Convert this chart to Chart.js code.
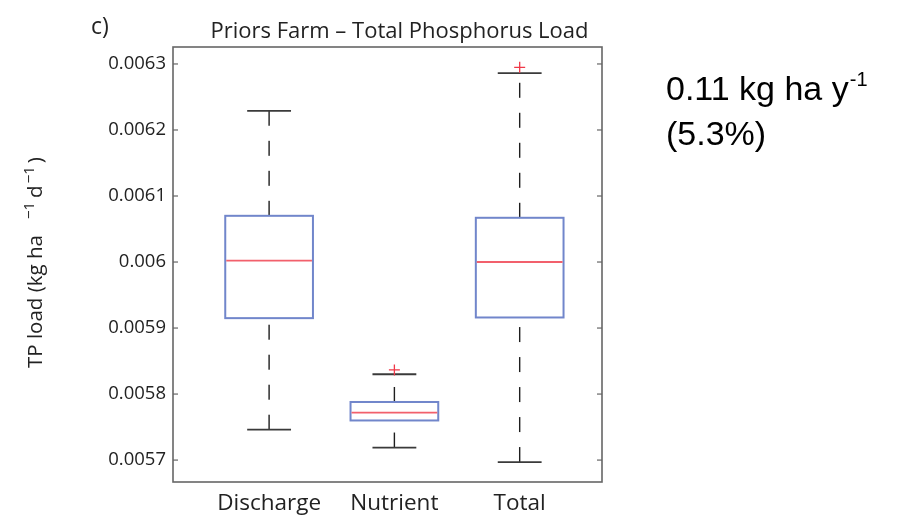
<!DOCTYPE html>
<html>
<head>
<meta charset="utf-8">
<script src="https://cdn.jsdelivr.net/npm/chart.js@4.4.1/dist/chart.umd.min.js"></script>
<style>
  html, body { margin: 0; padding: 0; background: #ffffff; }
  #wrap { width: 903px; height: 520px; position: relative; }
  canvas { display: block; }
</style>
</head>
<body>
<div id="wrap"><canvas id="c" width="903" height="520"></canvas></div>
<script>
// ---- data ----
const categories   = ['Discharge', 'Nutrient', 'Total'];
const whiskerLow   = [0.005746, 0.005719, 0.005697];
const quartile1    = [0.005915, 0.005760, 0.005916];
const medians      = [0.006002, 0.005772, 0.006000];
const quartile3    = [0.006070, 0.005788, 0.006067];
const whiskerHigh  = [0.006229, 0.005830, 0.006286];
const outlierCategory = ['Nutrient', 'Total'];
const outlierValues   = [0.0058365, 0.0062949];
const yTickValues = [0.0057, 0.0058, 0.0059, 0.0060, 0.0061, 0.0062, 0.0063];
const yTickLabels = ['0.0057', '0.0058', '0.0059', '0.006', '0.0061', '0.0062', '0.0063'];
const titleText  = 'Priors Farm \u2013 Total Phosphorus Load';
const panelLabel = 'c)';
const yLabelMain = 'TP load (kg ha';
const yLabelSup  = '\u22121';
const yLabelUnit = 'd';
const noteLine1  = '0.11 kg ha y';
const noteSup    = '-1';
const noteLine2  = '(5.3%)';

// ---- axis ranges / styling ----
const Y_MIN = 0.0056668, Y_MAX = 0.0063257;
const X_MIN = 0.233, X_MAX = 3.657;
const BOX_W = 0.70, CAP_W = 0.35;
const MYRIAD = '"Open Sans", "Noto Sans", sans-serif';
const TEXT = '#222';

const boxPlugin = {
  id: 'boxes',
  beforeDatasetsDraw(chart) {
    const { ctx, scales: { x, y } } = chart;
    ctx.save();
    categories.forEach((c, i) => {
      const pos = i + 1;
      const cx = x.getPixelForValue(pos);
      const bl = x.getPixelForValue(pos - BOX_W / 2), br = x.getPixelForValue(pos + BOX_W / 2);
      const kl = x.getPixelForValue(pos - CAP_W / 2), kr = x.getPixelForValue(pos + CAP_W / 2);
      const yq1 = y.getPixelForValue(quartile1[i]);
      const yq3 = y.getPixelForValue(quartile3[i]);
      const ymed = y.getPixelForValue(medians[i]);
      const ylo = y.getPixelForValue(whiskerLow[i]);
      const yhi = y.getPixelForValue(whiskerHigh[i]);
      // whiskers (dashed, drawn bottom -> top)
      ctx.strokeStyle = '#1e1e1e';
      ctx.lineWidth = 1.4;
      ctx.setLineDash([15, 15]);
      ctx.beginPath(); ctx.moveTo(cx, ylo); ctx.lineTo(cx, yq1); ctx.stroke();
      ctx.beginPath(); ctx.moveTo(cx, yq3); ctx.lineTo(cx, yhi); ctx.stroke();
      ctx.setLineDash([]);
      // caps
      ctx.strokeStyle = '#3a3a3a';
      ctx.lineWidth = 1.8;
      ctx.beginPath(); ctx.moveTo(kl, ylo); ctx.lineTo(kr, ylo); ctx.stroke();
      ctx.beginPath(); ctx.moveTo(kl, yhi); ctx.lineTo(kr, yhi); ctx.stroke();
      // box
      ctx.strokeStyle = '#7186cb';
      ctx.lineWidth = 2;
      ctx.strokeRect(bl, yq3, br - bl, yq1 - yq3);
      // median
      ctx.strokeStyle = '#f2606c';
      ctx.lineWidth = 1.8;
      ctx.beginPath(); ctx.moveTo(bl + 1, ymed); ctx.lineTo(br - 1, ymed); ctx.stroke();
    });
    ctx.restore();
  }
};

const framePlugin = {
  id: 'frame',
  afterDraw(chart) {
    const { ctx, chartArea: a, scales: { y } } = chart;
    ctx.save();
    ctx.strokeStyle = '#666';
    ctx.lineWidth = 1.6;
    ctx.strokeRect(a.left, a.top, a.right - a.left, a.bottom - a.top);
    ctx.lineWidth = 1.2;
    yTickValues.forEach(v => {
      const py = y.getPixelForValue(v);
      ctx.beginPath(); ctx.moveTo(a.left, py); ctx.lineTo(a.left + 5, py); ctx.stroke();
      ctx.beginPath(); ctx.moveTo(a.right, py); ctx.lineTo(a.right - 5, py); ctx.stroke();
    });
    // title
    ctx.fillStyle = TEXT;
    ctx.font = '22px ' + MYRIAD;
    ctx.textAlign = 'center';
    ctx.textBaseline = 'alphabetic';
    ctx.fillText(titleText, (a.left + a.right) / 2 + 12, 38);
    // panel label
    ctx.textAlign = 'left';
    ctx.font = '23px ' + MYRIAD;
    ctx.fillText(panelLabel, 91, 34);
    // y axis label (rotated, with superscripts)
    ctx.save();
    ctx.translate(42, 368);
    ctx.rotate(-Math.PI / 2);
    ctx.font = '20.5px ' + MYRIAD;
    const wMain = ctx.measureText(yLabelMain).width;
    ctx.fillText(yLabelMain, 0, 0);
    ctx.font = '15px ' + MYRIAD;
    const wSup = ctx.measureText(yLabelSup).width;
    let px = wMain + 16;
    ctx.fillText(yLabelSup, px, -8);
    px += wSup + 4;
    ctx.font = '20.5px ' + MYRIAD;
    ctx.fillText(yLabelUnit, px, 0);
    px += ctx.measureText(yLabelUnit).width + 2;
    ctx.font = '15px ' + MYRIAD;
    ctx.fillText(yLabelSup, px, -8);
    px += wSup + 3;
    ctx.font = '20.5px ' + MYRIAD;
    ctx.fillText(')', px, 0);
    ctx.restore();
    // annotation
    ctx.fillStyle = '#000';
    ctx.font = '34px "Liberation Sans", Arial, sans-serif';
    ctx.fillText(noteLine1, 666, 100);
    const w1 = ctx.measureText(noteLine1).width;
    ctx.font = '20px "Liberation Sans", Arial, sans-serif';
    ctx.fillText(noteSup, 666 + w1 + 1, 86);
    ctx.font = '34px "Liberation Sans", Arial, sans-serif';
    ctx.fillText(noteLine2, 666, 145);
    ctx.restore();
  }
};

new Chart(document.getElementById('c'), {
  type: 'scatter',
  data: {
    datasets: [{
      label: 'Outliers',
      data: outlierCategory.map((c, i) => ({ x: categories.indexOf(c) + 1, y: outlierValues[i] })),
      pointStyle: 'cross',
      radius: 5.5,
      borderColor: '#f03848',
      backgroundColor: '#f03848',
      borderWidth: 1.3
    }]
  },
  options: {
    responsive: false,
    devicePixelRatio: 1,
    animation: false,
    layout: { padding: { left: 0, top: 47, right: 301, bottom: 0 } },
    plugins: { legend: { display: false }, tooltip: { enabled: false }, title: { display: false } },
    scales: {
      x: {
        type: 'linear',
        min: X_MIN, max: X_MAX,
        grid: { display: false, drawTicks: false },
        border: { display: false },
        afterBuildTicks: s => { s.ticks = categories.map((c, i) => ({ value: i + 1 })); },
        afterFit: s => { s.height = 38; },
        ticks: {
          autoSkip: false, maxRotation: 0,
          padding: 8,
          color: TEXT,
          font: { family: MYRIAD, size: 22.5 },
          callback: v => categories[v - 1]
        }
      },
      y: {
        type: 'linear',
        min: Y_MIN, max: Y_MAX,
        grid: { display: false, drawTicks: false },
        border: { display: false },
        afterBuildTicks: s => { s.ticks = yTickValues.map(v => ({ value: v })); },
        afterFit: s => { s.width = 173; },
        ticks: {
          autoSkip: false,
          padding: 7,
          color: TEXT,
          font: { family: MYRIAD, size: 18.5 },
          callback: (v, idx) => yTickLabels[idx]
        }
      }
    }
  },
  plugins: [boxPlugin, framePlugin]
});
</script>
</body>
</html>
